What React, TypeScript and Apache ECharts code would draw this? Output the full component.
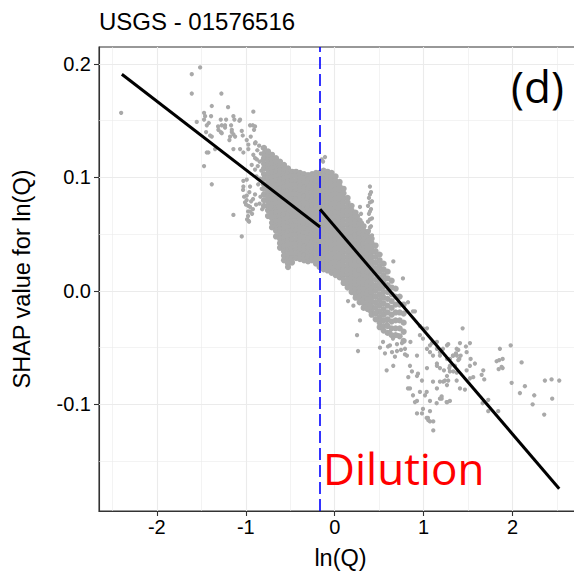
import React, { useEffect, useRef } from "react";
import * as echarts from "echarts";

// ---- axis ticks / grid ----
const xTicks = [-2, -1, 0, 1, 2];
const yTicks = [-0.1, 0, 0.1, 0.2];
const xMinor = [-2.5, -1.5, -0.5, 0.5, 1.5, 2.5];
const yMinor = [-0.15, -0.05, 0.05, 0.15];

// ---- breakpoint & fitted piecewise line ----
const breakpointX = -0.165;
const fitLeftX = [-2.393, -0.165];
const fitLeftY = [0.191, 0.0563];
const fitRightX = [-0.165, 2.524];
const fitRightY = [0.0719, -0.1743];

// ---- SHAP points ----
const sparseUpperLeft: number[][] = [
  [-2.401, 0.157], [-1.607, 0.191], [-1.513, 0.197], [-1.607, 0.174], [-1.274, 0.174], [-1.382, 0.163],
  [-1.199, 0.162], [-0.915, 0.158], [-1.469, 0.157], [-1.39, 0.154], [-1.551, 0.149], [-1.469, 0.151],
  [-1.416, 0.148], [-1.281, 0.151], [-1.221, 0.151], [-1.139, 0.154], [-1.128, 0.151], [-1.072, 0.15],
  [-1.308, 0.142], [-1.281, 0.14], [-1.233, 0.146], [-1.165, 0.146], [-1.157, 0.14], [-1.176, 0.136],
  [-1.12, 0.136], [-1.034, 0.137], [-0.989, 0.133], [-1.401, 0.137], [-1.382, 0.136], [-1.446, 0.14],
  [-1.184, 0.133], [-1.139, 0.125], [-1.064, 0.125], [-1.027, 0.122], [-1.42, 0.122], [-1.345, 0.125],
  [-1.469, 0.11], [-1.382, 0.094], [-0.921, 0.146], [-0.907, 0.142], [-0.944, 0.136], [-0.896, 0.13],
  [-0.971, 0.125], [-0.915, 0.12], [-0.876, 0.116], [-0.933, 0.111], [-0.896, 0.107], [-0.989, 0.098],
  [-1.027, 0.092], [-0.952, 0.092], [-0.989, 0.084], [-1.008, 0.078], [-0.971, 0.075], [-1.457, 0.154],
  [-1.438, 0.146], [-1.311, 0.145], [-1.27, 0.146], [-1.233, 0.144], [-1.27, 0.139], [-1.157, 0.142],
  [-1.139, 0.138], [-1.064, 0.151], [-1.045, 0.141], [-0.952, 0.146], [-0.896, 0.145], [-1.438, 0.122],
  [-1.139, 0.067], [-1.045, 0.048], [-1.027, 0.097], [-0.971, 0.129],
];

const sparseLowerLeft: number[][] = [
  [-1.03, 0.089], [-1.019, 0.083], [-0.997, 0.076], [-0.974, 0.07], [-0.985, 0.063], [-0.952, 0.074],
  [-0.929, 0.068], [-0.918, 0.081], [-0.896, 0.085], [-0.884, 0.076], [-0.963, 0.061], [-0.971, 0.062],
  [-0.99, 0.08], [-0.96, 0.087], [-0.94, 0.079], [-0.92, 0.072], [-0.974, 0.066], [-0.952, 0.07],
];

const lobeEdge: number[][] = [
  [-0.89, 0.131], [-0.87, 0.124], [-0.895, 0.117], [-0.865, 0.11], [-0.88, 0.101], [-0.86, 0.094],
  [-0.85, 0.128], [-0.83, 0.121], [-0.845, 0.114], [-0.825, 0.106], [-0.84, 0.099], [-0.82, 0.09],
  [-0.835, 0.083], [-0.845, 0.077], [-0.815, 0.072], [-0.81, 0.126], [-0.815, 0.115], [-0.805, 0.098],
];

const coreLeft: [number, number[]][] = [
  [-0.795, [0.126, 0.121, 0.117, 0.112, 0.108, 0.103, 0.099, 0.094, 0.09, 0.085, 0.08, 0.075]],
  [-0.75, [0.123, 0.119, 0.115, 0.111, 0.107, 0.103, 0.099, 0.095, 0.091, 0.087, 0.083, 0.079, 0.075, 0.071, 0.066]],
  [-0.705, [0.12, 0.116, 0.112, 0.108, 0.104, 0.1, 0.096, 0.092, 0.088, 0.084, 0.08, 0.076, 0.072, 0.068, 0.064, 0.06, 0.056]],
  [-0.66, [0.117, 0.113, 0.109, 0.105, 0.101, 0.097, 0.093, 0.089, 0.085, 0.081, 0.077, 0.073, 0.069, 0.065, 0.061, 0.057, 0.053, 0.048]],
  [-0.615, [0.114, 0.11, 0.106, 0.102, 0.098, 0.094, 0.09, 0.086, 0.082, 0.078, 0.074, 0.07, 0.066, 0.062, 0.058, 0.054, 0.05, 0.046, 0.042, 0.038]],
  [-0.57, [0.111, 0.107, 0.103, 0.099, 0.095, 0.091, 0.087, 0.083, 0.079, 0.075, 0.071, 0.067, 0.063, 0.059, 0.055, 0.051, 0.047, 0.043, 0.039, 0.035, 0.031, 0.027]],
  [-0.525, [0.108, 0.104, 0.1, 0.096, 0.092, 0.088, 0.084, 0.08, 0.076, 0.072, 0.068, 0.064, 0.06, 0.056, 0.052, 0.048, 0.044, 0.04, 0.036, 0.032, 0.028, 0.024, 0.021]],
  [-0.48, [0.105, 0.101, 0.097, 0.093, 0.089, 0.085, 0.081, 0.077, 0.073, 0.069, 0.065, 0.061, 0.057, 0.053, 0.049, 0.045, 0.041, 0.037, 0.033, 0.029, 0.025]],
  [-0.435, [0.105, 0.101, 0.097, 0.093, 0.089, 0.085, 0.081, 0.077, 0.073, 0.069, 0.065, 0.061, 0.057, 0.053, 0.049, 0.045, 0.041, 0.037, 0.033, 0.029]],
  [-0.39, [0.104, 0.1, 0.096, 0.092, 0.088, 0.084, 0.08, 0.076, 0.072, 0.068, 0.064, 0.06, 0.056, 0.052, 0.048, 0.044, 0.04, 0.036, 0.032, 0.028]],
  [-0.345, [0.103, 0.099, 0.095, 0.091, 0.087, 0.083, 0.079, 0.075, 0.071, 0.067, 0.063, 0.059, 0.055, 0.051, 0.047, 0.043, 0.039, 0.035, 0.031, 0.027]],
  [-0.3, [0.102, 0.098, 0.094, 0.09, 0.086, 0.082, 0.078, 0.074, 0.07, 0.066, 0.062, 0.058, 0.054, 0.05, 0.046, 0.042, 0.038, 0.034, 0.03, 0.026]],
  [-0.255, [0.103, 0.099, 0.095, 0.091, 0.087, 0.083, 0.079, 0.075, 0.071, 0.067, 0.063, 0.059, 0.055, 0.051, 0.047, 0.043, 0.039, 0.035, 0.031, 0.027]],
  [-0.21, [0.104, 0.1, 0.096, 0.092, 0.088, 0.084, 0.08, 0.076, 0.072, 0.068, 0.064, 0.06, 0.056, 0.052, 0.048, 0.044, 0.04, 0.036, 0.032, 0.028, 0.024]],
  [-0.17, [0.104, 0.1, 0.096, 0.092, 0.088, 0.084, 0.08, 0.076, 0.072, 0.068, 0.064, 0.06, 0.056, 0.052, 0.048, 0.044, 0.04, 0.036, 0.032, 0.028, 0.024, 0.021]],
];

const coreRight: [number, number[]][] = [
  [-0.125, [0.106, 0.102, 0.098, 0.094, 0.09, 0.086, 0.082, 0.078, 0.074, 0.07, 0.066, 0.062, 0.058, 0.054, 0.05, 0.046, 0.042, 0.038, 0.034, 0.03, 0.026, 0.022, 0.019]],
  [-0.08, [0.105, 0.101, 0.097, 0.093, 0.089, 0.085, 0.081, 0.077, 0.073, 0.069, 0.065, 0.061, 0.057, 0.053, 0.049, 0.045, 0.041, 0.037, 0.033, 0.029, 0.025, 0.021, 0.018]],
  [-0.035, [0.104, 0.1, 0.096, 0.092, 0.088, 0.084, 0.08, 0.076, 0.072, 0.068, 0.064, 0.06, 0.056, 0.052, 0.048, 0.044, 0.04, 0.036, 0.032, 0.028, 0.024, 0.02, 0.016]],
  [0.01, [0.101, 0.097, 0.093, 0.089, 0.085, 0.081, 0.077, 0.073, 0.069, 0.065, 0.061, 0.057, 0.053, 0.049, 0.045, 0.041, 0.037, 0.033, 0.029, 0.025, 0.021, 0.017, 0.014]],
  [0.055, [0.096, 0.092, 0.088, 0.084, 0.08, 0.076, 0.072, 0.068, 0.064, 0.06, 0.056, 0.052, 0.048, 0.044, 0.04, 0.036, 0.032, 0.028, 0.024, 0.02, 0.016, 0.012]],
  [0.1, [0.09, 0.086, 0.082, 0.078, 0.074, 0.07, 0.066, 0.062, 0.058, 0.054, 0.05, 0.046, 0.042, 0.038, 0.034, 0.03, 0.026, 0.022, 0.018, 0.014, 0.01, 0.007]],
  [0.145, [0.082, 0.078, 0.074, 0.07, 0.066, 0.062, 0.058, 0.054, 0.05, 0.046, 0.042, 0.038, 0.034, 0.03, 0.026, 0.022, 0.018, 0.014, 0.01, 0.006, 0.003]],
  [0.19, [0.075, 0.071, 0.067, 0.063, 0.059, 0.055, 0.051, 0.047, 0.043, 0.039, 0.035, 0.031, 0.027, 0.023, 0.019, 0.015, 0.011, 0.007, 0.003, -0.001]],
  [0.235, [0.069, 0.065, 0.061, 0.057, 0.053, 0.049, 0.045, 0.041, 0.037, 0.033, 0.029, 0.025, 0.021, 0.017, 0.013, 0.009, 0.005, 0.001, -0.003, -0.006]],
  [0.28, [0.062, 0.058, 0.054, 0.05, 0.046, 0.042, 0.038, 0.034, 0.03, 0.026, 0.022, 0.018, 0.014, 0.01, 0.006, 0.002, -0.002, -0.006, -0.01]],
  [0.325, [0.057, 0.053, 0.049, 0.045, 0.041, 0.037, 0.033, 0.029, 0.025, 0.021, 0.017, 0.013, 0.009, 0.005, 0.001, -0.003, -0.007, -0.011, -0.015]],
  [0.37, [0.052, 0.048, 0.044, 0.04, 0.036, 0.032, 0.028, 0.024, 0.02, 0.016, 0.012, 0.008, 0.004, 0.0, -0.004, -0.008, -0.012, -0.016]],
  [0.415, [0.046, 0.042, 0.038, 0.034, 0.03, 0.026, 0.022, 0.018, 0.014, 0.01, 0.006, 0.002, -0.002, -0.006, -0.01, -0.014, -0.018, -0.021]],
  [0.46, [0.04, 0.035, 0.03, 0.025, 0.02, 0.015, 0.01, 0.005, 0.0, -0.005, -0.01, -0.015, -0.02, -0.025]],
  [0.505, [0.032, 0.027, 0.022, 0.017, 0.012, 0.007, 0.002, -0.003, -0.008, -0.013, -0.018, -0.023, -0.028, -0.032]],
  [0.55, [0.024, 0.019, 0.014, 0.009, 0.004, -0.001, -0.006, -0.011, -0.016, -0.021, -0.026, -0.031, -0.035]],
  [0.595, [0.017, 0.011, 0.005, -0.001, -0.007, -0.013, -0.019, -0.025, -0.031, -0.037]],
  [0.64, [0.009, 0.003, -0.003, -0.009, -0.015, -0.021, -0.027, -0.033, -0.039]],
  [0.685, [0.002, -0.005, -0.012, -0.019, -0.026, -0.033, -0.039]],
  [0.73, [-0.005, -0.012, -0.019, -0.026, -0.033, -0.04]],
  [0.775, [-0.012, -0.02, -0.028, -0.036, -0.044]],
];

const spikes: number[][] = [
  [0.396, 0.092], [0.408, 0.087], [0.385, 0.082], [0.419, 0.079], [0.374, 0.075], [0.408, 0.072],
  [0.385, 0.068], [0.419, 0.064], [0.374, 0.061], [0.408, 0.057], [0.385, 0.053], [0.352, 0.049],
  [0.419, 0.049], [0.396, 0.085], [0.396, 0.078], [0.396, 0.07], [0.396, 0.063], [0.396, 0.056],
  [0.284, 0.074], [0.296, 0.068], [0.273, 0.063], [0.307, 0.06], [0.262, 0.066],
  [-0.146, 0.116], [-0.109, 0.118], [-0.131, 0.114],
];

const sparseTail: number[][] = [
  [0.659, 0.026], [0.767, 0.011], [0.824, -0.01], [0.251, -0.039], [0.262, -0.053], [0.284, -0.026],
  [0.584, -0.07], [0.658, -0.066], [0.543, -0.045], [0.599, -0.049], [0.644, -0.054], [0.7, -0.047],
  [0.745, -0.052], [0.79, -0.056], [0.565, -0.055], [0.677, -0.058], [0.509, -0.05], [0.846, -0.066],
  [0.868, -0.071], [0.925, -0.075], [0.981, -0.079], [0.824, -0.086], [0.88, -0.092], [0.958, -0.089],
  [0.992, -0.104], [0.925, -0.097], [0.925, -0.108], [0.981, -0.108], [1.048, -0.112], [1.071, -0.115],
  [1.108, -0.123], [1.108, -0.115], [1.071, -0.106], [1.034, -0.112], [1.052, -0.114], [1.262, -0.048],
  [1.329, -0.057], [1.183, -0.068], [1.295, -0.071], [1.262, -0.083], [1.183, -0.095], [1.149, -0.086],
  [1.071, -0.097], [1.295, -0.097], [0.827, -0.076], [0.846, -0.086], [0.902, -0.098], [1.015, -0.092],
  [1.034, -0.089], [1.146, -0.099], [1.202, -0.095], [1.258, -0.098], [1.22, -0.08], [1.276, -0.079],
  [1.371, -0.079], [1.438, -0.033], [1.371, -0.051], [1.4, -0.06], [1.483, -0.054], [1.52, -0.046],
  [1.276, -0.047], [1.408, -0.046], [1.475, -0.049], [1.389, -0.052], [1.363, -0.055], [1.333, -0.057],
  [1.296, -0.06], [1.416, -0.057], [1.389, -0.061], [1.352, -0.066], [1.288, -0.068], [1.228, -0.07],
  [1.239, -0.079], [1.183, -0.08], [1.333, -0.071], [1.371, -0.072], [1.202, -0.093], [1.265, -0.098],
  [1.408, -0.086], [1.464, -0.087], [1.483, -0.07], [1.52, -0.066], [1.576, -0.064], [1.528, -0.06],
  [1.557, -0.076], [1.52, -0.077], [1.67, -0.07], [1.652, -0.074], [1.681, -0.078], [1.726, -0.096],
  [1.663, -0.099], [1.726, -0.106], [1.838, -0.106], [1.857, -0.051], [1.978, -0.048], [1.82, -0.062],
  [1.888, -0.06], [1.843, -0.069], [1.888, -0.068], [2.101, -0.063], [1.989, -0.081], [2.138, -0.084],
  [2.082, -0.09], [2.243, -0.092], [2.225, -0.1], [2.363, -0.079], [2.438, -0.078], [2.524, -0.079],
  [2.445, -0.095], [2.355, -0.109], [1.849, -0.061], [1.876, -0.067], [0.851, -0.045], [0.925, -0.057],
  [1.037, -0.051], [1.149, -0.064], [1.262, -0.06], [0.936, -0.073], [1.071, -0.054], [1.149, -0.066],
  [1.262, -0.075], [1.295, -0.066], [1.374, -0.057], [1.105, -0.08], [1.037, -0.068], [0.21, -0.013],
  [0.15, -0.009], [0.902, -0.018], [0.958, -0.031], [1.037, -0.033], [0.992, -0.042], [1.071, -0.048],
  [1.149, -0.045], [1.183, -0.054], [1.217, -0.051], [1.105, -0.057], [0.88, -0.018], [0.958, -0.039],
  [0.992, -0.033], [1.093, -0.046], [1.149, -0.051], [1.183, -0.057], [0.475, -0.018], [0.509, -0.025],
  [0.531, -0.033], [0.588, -0.029], [0.621, -0.036], [0.655, -0.042], [0.711, -0.039], [0.756, -0.046],
  [0.79, -0.051], [0.621, -0.048], [0.7, -0.053], [0.812, -0.057], [0.284, -0.004], [0.34, -0.014],
  [0.396, -0.018], [0.228, 0.002], [0.363, -0.007],
];

const FONT = "'Liberation Sans', Arial, Helvetica, sans-serif";
const ANNOT_FONT = "'Open Sans', 'Noto Sans', sans-serif";
const POINT_COLOR = "#a9a9a9";

function buildOption() {
  const corePoints = [...coreLeft, ...coreRight].flatMap(([x, ys]) => ys.map((y) => [x, y]));
  const sparsePoints = [...sparseUpperLeft, ...sparseLowerLeft, ...lobeEdge, ...spikes, ...sparseTail];
  const gridLines = [
    ...xTicks.map((v) => ({ xAxis: v, lineStyle: { width: 1.1 } })),
    ...xMinor.map((v) => ({ xAxis: v, lineStyle: { width: 0.6 } })),
    ...yTicks.map((v) => ({ yAxis: v, lineStyle: { width: 1.1 } })),
    ...yMinor.map((v) => ({ yAxis: v, lineStyle: { width: 0.6 } })),
  ];
  return {
    animation: false,
    backgroundColor: "#ffffff",
    textStyle: { fontFamily: FONT },
    title: {
      text: "USGS - 01576516",
      left: 99,
      top: 9,
      padding: 0,
      textStyle: { fontFamily: FONT, fontSize: 24, fontWeight: "normal", color: "#000" },
    },
    grid: {
      left: 99,
      top: 47,
      width: 483,
      height: 466,
      show: true,
      backgroundColor: "#ffffff",
      borderColor: "#333333",
      borderWidth: 1.1,
    },
    xAxis: {
      type: "value",
      min: -2.65,
      max: 2.78,
      name: "ln(Q)",
      nameLocation: "middle",
      nameGap: 35,
      nameTextStyle: { fontFamily: FONT, fontSize: 23.5, color: "#000" },
      axisLine: { show: true, onZero: false, lineStyle: { color: "#333333", width: 1.1 } },
      axisTick: { show: true, length: 5, customValues: xTicks, lineStyle: { color: "#333333", width: 1.1 } },
      axisLabel: {
        customValues: xTicks,
        margin: 6,
        fontSize: 20,
        color: "#000",
        fontFamily: FONT,
        formatter: (v: number) => String(v),
      },
      splitLine: { show: false },
    },
    yAxis: {
      type: "value",
      min: -0.194,
      max: 0.215,
      name: "SHAP value for ln(Q)",
      nameLocation: "middle",
      nameGap: 65,
      nameTextStyle: { fontFamily: FONT, fontSize: 23.5, color: "#000" },
      axisLine: { show: true, onZero: false, lineStyle: { color: "#333333", width: 1.1 } },
      axisTick: { show: true, length: 5, customValues: yTicks, lineStyle: { color: "#333333", width: 1.1 } },
      axisLabel: {
        customValues: yTicks,
        margin: 8,
        fontSize: 20,
        color: "#000",
        fontFamily: FONT,
        formatter: (v: number) => v.toFixed(1),
      },
      splitLine: { show: false },
    },
    series: [
      {
        type: "scatter",
        name: "core",
        data: corePoints,
        symbolSize: 6.2,
        itemStyle: { color: POINT_COLOR, opacity: 1 },
        silent: true,
        z: 2,
        markLine: {
          silent: true,
          symbol: "none",
          z: 1,
          label: { show: false },
          lineStyle: { color: "#ebebeb", type: "solid" },
          emphasis: { disabled: true },
          data: gridLines,
        },
      },
      {
        type: "scatter",
        name: "sparse",
        data: sparsePoints,
        symbolSize: 4.3,
        itemStyle: { color: POINT_COLOR, opacity: 1 },
        silent: true,
        z: 2,
      },
      {
        type: "line",
        name: "fitLeft",
        data: fitLeftX.map((x, i) => [x, fitLeftY[i]]),
        symbol: "none",
        lineStyle: { color: "#000", width: 3 },
        silent: true,
        z: 4,
        markLine: {
          silent: true,
          symbol: "none",
          z: 3,
          label: { show: false },
          lineStyle: { color: "#0000ff", type: [12, 5], width: 1.6 },
          emphasis: { disabled: true },
          data: [{ xAxis: breakpointX }],
        },
      },
      {
        type: "line",
        name: "fitRight",
        data: fitRightX.map((x, i) => [x, fitRightY[i]]),
        symbol: "none",
        lineStyle: { color: "#000", width: 3 },
        silent: true,
        z: 4,
      },
    ],
    graphic: [
      {
        type: "text",
        x: 511,
        y: 64,
        z: 10,
        style: { text: "(d)", fontSize: 44, fontFamily: ANNOT_FONT, fill: "#000" },
      },
      {
        type: "text",
        x: 323,
        y: 446,
        z: 10,
        style: { text: "Dilution", fontSize: 44, fontFamily: ANNOT_FONT, fill: "#ff0000" },
      },
    ],
  };
}

export default function App() {
  const ref = useRef<HTMLDivElement>(null);
  useEffect(() => {
    document.body.style.margin = "0";
    document.body.style.overflow = "hidden";
    const chart = echarts.init(ref.current as HTMLDivElement, null, { renderer: "svg" });
    chart.setOption(buildOption() as any);
    return () => chart.dispose();
  }, []);
  return (
    <div
      ref={ref}
      style={{ position: "fixed", left: 0, top: 0, width: 600, height: 575, background: "#fff" }}
    />
  );
}
